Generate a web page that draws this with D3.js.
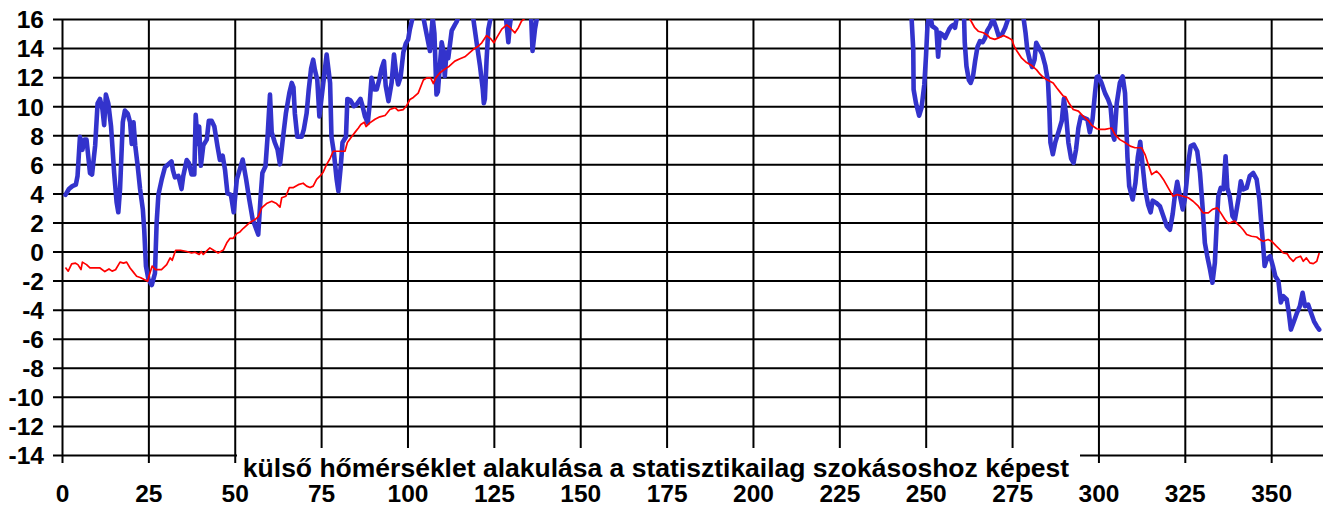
<!DOCTYPE html>
<html>
<head>
<meta charset="utf-8">
<script src="https://cdn.jsdelivr.net/npm/d3@7"></script>
<style>
  html, body { margin: 0; padding: 0; background: #fff; }
  svg { display: block; font-family: "Liberation Sans", Arial, sans-serif; }
</style>
</head>
<body>
<svg id="chart" width="1330" height="508"></svg>
<script>
// ---- data ----
const xTicks = [0, 25, 50, 75, 100, 125, 150, 175, 200, 225, 250, 275, 300, 325, 350];
const yTicks = [-14, -12, -10, -8, -6, -4, -2, 0, 2, 4, 6, 8, 10, 12, 14, 16];
const chartTitle = "külső hőmérséklet alakulása a statisztikailag szokásoshoz képest";

// measured outdoor temperature (day, °C); null breaks the line where it runs above the chart
const measuredDay = [
  1,2,3,4,4.5,5.2,5.9,6.5,7.1,8.1,8.7,9.6,10.3,11,11.7,12.2,12.7,13.4,14.2,15.1,15.8,16.3,16.8,17.6,18.2,19,19.7,20.2,20.7,21.2,21.9,22.6,23.4,23.8,24.3,25,26,26.9,27.4,27.9,28.9,29.8,31.7,32.1,32.7,33.7,34.6,35.1,36.1,36.7,37.5,38.3,38.7,39.3,39.7,40.2,40.9,41.9,42.5,43.3,44.1,45,45.7,46.5,47.2,47.9,48.9,49.7,50.6,52.3,53.3,54.2,55.2,56.1,56.8,57.5,58,58.9,59.5,60.2,60.7,61.6,62.4,63.1,64,64.8,65.8,66.5,67,67.4,68.1,69.4,70,70.8,71.4,72.1,72.7,73.2,73.9,74.5,76.6,77.6,78,78.7,79.5,80,80.7,81.2,82.2,82.6,83.5,84.5,85.2,86.4,87,87.7,88.5,89,89.6,90.4,91.1,91.8,92.5,93.2,93.7,94.5,95.4,96.1,96.7,97.3,98,98.8,99.5,100.2,100.7,101.5,103,104.6,105.5,106.5,107.3,107.8,108.4,108.8,109.9,110.3,110.8,111.3,111.8,112.8,113.7,114.2,114.8,117,119,120,121,121.8,122.1,122.4,122.9,123.4,124,126,128.5,129.2,129.6,130,133,135.8,136.2,136.9,137.5,138.5,
  190,
  244.5,245.9,246.4,246.5,247.2,248.1,248.8,249.6,250.1,250.5,250.9,251.5,251.9,252.6,253.1,253.6,254.1,255,255.6,256,256.8,257.4,258,258.5,259,260,261.1,261.3,261.8,262.5,263,263.7,264.3,265,265.7,266.5,267.2,267.8,268.6,269.5,270.4,271.1,272,273,274,276,278.3,278.9,279.4,280.2,280.8,281.5,282,282.8,283.7,284.6,285.4,285.8,286.1,286.8,287.5,288.6,289.4,290,290.6,291.3,292.1,292.8,293.5,294.2,294.9,295.8,296.8,297.5,298.3,299,299.5,300,300.9,301.9,302.8,303.5,304.2,304.6,305.3,306.2,307,307.7,308.1,308.4,308.9,309.9,310.7,311.4,312.1,312.8,313.5,314.4,315.1,315.7,316.7,317.8,318.8,319.8,320.7,321.5,322.1,322.8,323.6,324.4,325,325.5,326,326.7,327.6,328.6,329.4,330.2,330.8,331.5,332.3,333,333.7,334.2,334.7,335.4,336.2,336.8,337.3,338,338.8,339.5,340.5,341.2,341.9,342.9,343.8,344.8,345.8,346.6,347.2,347.7,348.1,348.7,349.7,350.5,351.2,352.1,352.8,353.5,354.5,355.1,355.7,356.6,357.5,358.3,359.1,359.8,360.7,361.5,362.4,363.2,363.9
];
const measuredTemp = [
  3.9,4.3,4.5,4.6,5.2,7.9,7.0,7.7,7.7,5.4,5.3,7.3,10.2,10.5,9.8,8.7,10.8,10.2,8.6,5.4,3.4,2.7,4.3,8.9,9.7,9.5,8.9,7.4,8.9,7.3,5.9,4.3,2.9,1.5,-1.0,-1.9,-2.3,-1.5,2.0,3.9,5.0,5.8,6.2,5.6,5.1,5.2,4.3,5.2,6.3,6.1,5.3,5.3,9.4,7.4,8.6,5.9,7.3,7.7,9.0,9.0,8.6,7.25,6.3,6.6,5.6,4.0,3.9,2.7,4.96,6.33,4.96,3.58,2.2,1.63,1.17,3.8,5.4,5.87,7.9,10.8,8.2,7.5,7.0,6.0,7.9,9.5,10.9,11.6,11.3,9.5,7.9,7.9,8.4,9.5,11.1,12.6,13.2,12.5,11.8,9.3,13.56,11.6,7.9,6.8,4.96,4.15,5.9,7.5,7.9,10.5,10.4,10.0,10.1,10.5,10.0,9.3,8.85,10.0,11.95,11.15,11.15,11.8,12.6,13.1,11.4,10.35,11.6,13.56,12.3,11.5,12.0,13.7,14.3,14.6,15.3,16.1,17,16.1,15.0,13.8,16.1,15.0,10.8,11.0,14.4,13.9,12.06,13.7,13.3,15.2,15.6,15.8,16.2,17,16.1,14.4,12.75,11.15,10.2,10.5,13.2,15.3,16,17,16.1,14.4,15.5,16.2,17,16.1,13.8,15.3,16.1,17,
  null,
  17,16.1,13.9,11.15,10.2,9.35,9.9,11.5,13.5,15.5,16.1,16.0,15.5,15.4,15.3,13.4,15.05,14.9,14.7,14.9,15.3,15.5,15.6,15.4,16.1,17,16.1,14.4,12.75,11.8,11.6,12.06,13.1,14.1,14.47,14.4,14.7,15.2,15.5,16.0,15.4,14.85,14.9,15.4,16.1,17,16.1,15.05,13.9,13.1,12.7,13.2,14.36,14.0,13.6,12.8,11.7,9.7,7.5,6.7,7.5,8.35,9.0,10.5,9.5,7.5,6.4,6.1,7.0,8.5,9.3,9.2,9.1,8.2,9.1,10.9,12.0,12.06,11.6,10.9,10.46,10.0,8.0,7.7,10.2,11.6,12.06,10.9,8.5,6.5,4.5,3.58,4.7,6.5,7.55,5.9,4.3,3.2,2.7,3.5,3.35,3.12,2.43,1.74,1.5,2.6,3.8,4.8,3.8,2.9,3.58,4.73,6.1,7.25,7.36,6.9,5.4,2.9,0.6,-0.32,-1.24,-2.15,-0.78,1.74,3.8,4.38,4.3,6.56,4.38,3.8,2.43,2.2,3.58,4.84,4.27,4.38,5.2,5.4,4.96,3.58,1.74,0.37,-1.0,-0.55,-0.32,-1.0,-1.7,-2.04,-3.5,-3.07,-3.3,-4.2,-5.37,-4.8,-4.2,-3.76,-2.84,-3.76,-3.65,-4.2,-4.8,-5.14,-5.37
];

// statistically usual temperature (day, °C)
const normalDay = [
  1,1.8,2.8,3.9,4.6,5.5,5.9,7.1,8.1,11,12.4,13.6,14.5,15.5,16.8,17.8,18.7,19.7,20.6,21.6,22.8,23.8,24.8,25.3,26.1,27.1,28.8,30.3,31.3,31.9,32.9,34.3,36.1,37.5,38.5,39.7,40.3,40.9,41.9,42.8,44.1,45.2,46.7,47.7,48.6,49.5,50.6,51.5,52.5,54.4,55.9,56.8,57.8,59.2,60.7,62.1,63.1,63.6,64.8,65.8,67,68.4,69.8,70.8,71.8,72.7,73.7,74.7,75.6,76.6,77.6,78.5,79.7,80.9,81.9,82.6,83.5,84.8,85.8,86.5,87.5,88,89.1,90.6,92,93.5,94,94.9,96.4,97.3,98.8,99.8,100.7,101.7,103.1,104.6,105.6,106.7,107.5,108.2,109.4,110.9,112.1,113.7,115.2,116.6,117.6,119,120.5,121.5,122.9,124.1,125,125.8,127.3,128.7,129.7,131.1,132.1,133,134,135,
  200,
  262,262.8,264.2,265.2,266.7,268,268.6,270,271.1,272.5,274,275,275.6,276.4,277.8,279.2,280.7,282.1,283.1,284.2,285.5,286.9,287.9,288.9,289.8,290.5,291.5,292.7,294.2,295.2,296.1,297.1,298,299.5,300.5,301.9,303.8,304.8,306.2,307.7,309.2,310.6,312.5,313.5,314.4,315.4,316.8,317.8,318.8,320.2,321.6,322.8,324.5,326,327.4,328.9,330.3,331.8,333,334.4,335.4,336.6,337.6,338.5,339.5,340.2,341,341.9,342.9,344.3,345.8,346.7,347.7,349.1,350.1,351.5,352.5,353.5,354.6,355.4,356.4,357.2,358.5,359.3,360.2,361.2,362.2,363.2,363.9
];
const normalTemp = [
  -1.1,-1.35,-0.85,-0.8,-0.9,-1.24,-0.73,-0.9,-1.13,-1.13,-1.38,-1.2,-1.35,-1.25,-0.73,-0.8,-0.73,-1.13,-1.4,-1.7,-1.8,-1.93,-2.04,-1.6,-1.0,-1.24,-1.24,-0.9,-0.44,-0.6,0.09,0.09,0.0,-0.1,-0.05,-0.2,0,-0.2,0.05,0.25,0.05,-0.1,0.1,0.6,0.9,0.9,1.24,1.35,1.6,2.0,2.2,2.4,3.0,3.3,3.46,3.3,3.05,3.7,3.8,4.4,4.4,4.6,4.7,4.5,4.4,4.5,4.96,5.2,5.46,6.0,6.4,6.9,6.9,6.9,6.9,7.5,7.8,8.2,8.5,8.74,8.9,8.6,8.85,9.1,9.27,9.36,9.5,9.77,9.9,9.7,9.77,10.05,10.46,10.6,10.9,11.8,11.95,11.95,11.56,11.95,12.3,12.57,12.75,13.1,13.26,13.4,13.6,13.9,14.13,14.36,14.86,14.64,14.36,14.7,15.3,15.6,15.4,15.05,15.4,15.85,16.05,16.4,
  null,
  16.5,16.0,15.4,15.16,15.05,14.86,14.7,14.6,14.7,14.86,14.7,14.55,14.13,13.8,13.3,13.0,12.8,12.5,12.2,11.95,11.77,11.6,11.27,10.97,10.7,10.65,10.2,9.77,9.66,9.4,9.2,9.0,8.7,8.45,8.4,8.4,8.5,8.05,7.7,7.5,7.25,7.14,7.14,6.67,6.0,5.3,5.53,5.3,4.96,4.38,3.8,3.92,3.8,3.7,3.46,3.12,2.66,2.66,2.9,3.0,2.66,2.2,1.93,2.02,2.09,1.9,1.74,1.5,1.17,1.05,1.0,0.83,0.71,0.83,0.71,0.37,0.14,-0.1,-0.14,-0.44,-0.67,-0.44,-0.32,-0.67,-0.44,-0.78,-0.83,-0.67,-0.1
];

// ---- drawing ----
const svg = d3.select("#chart");
const pLeft = 62, pRight = 1323, pTop = 19, pBottom = 455;
const x = d3.scaleLinear().domain([0, 365]).range([pLeft, pRight]);
const y = d3.scaleLinear().domain([-14, 16]).range([pBottom, pTop]);
const FONT = "'Liberation Sans', Arial, sans-serif";
const LABEL_SIZE = 24.5;

svg.append("defs").append("clipPath").attr("id", "plotClip")
  .append("rect").attr("x", pLeft).attr("y", pTop).attr("width", pRight - pLeft).attr("height", pBottom - pTop);

// horizontal grid + y labels
const gy = svg.append("g").attr("transform", `translate(${pLeft - 9},0)`)
  .call(d3.axisLeft(y).tickValues(yTicks).tickSizeInner(-(pRight - pLeft + 9)).tickSizeOuter(0)
    .tickPadding(9).tickFormat(d => String(d)));
gy.select(".domain").remove();
gy.selectAll("line").attr("stroke", "#000").attr("stroke-width", 2);
gy.selectAll("text").attr("font-size", LABEL_SIZE).attr("font-weight", "bold").attr("fill", "#000")
  .attr("font-family", FONT).attr("dy", "0.36em");

// vertical grid + x labels
const gx = svg.append("g").attr("transform", `translate(0,${pBottom + 8})`)
  .call(d3.axisBottom(x).tickValues(xTicks).tickSizeInner(-(pBottom + 8 - pTop)).tickSizeOuter(0).tickPadding(22));
gx.select(".domain").remove();
gx.selectAll("line").attr("stroke", "#000").attr("stroke-width", 2);
gx.selectAll("text").attr("font-size", LABEL_SIZE).attr("font-weight", "bold").attr("fill", "#000")
  .attr("font-family", FONT);

// series
const measured = measuredDay.map((d, i) => [d, measuredTemp[i]]);
const normal = normalDay.map((d, i) => [d, normalTemp[i]]);
const line = d3.line().defined(d => d[1] !== null && d[1] !== undefined).x(d => x(d[0])).y(d => y(d[1]));

const plot = svg.append("g").attr("clip-path", "url(#plotClip)");
plot.append("path").datum(measured).attr("d", line)
  .attr("fill", "none").attr("stroke", "#3333cc").attr("stroke-width", 4.6)
  .attr("stroke-linejoin", "round").attr("stroke-linecap", "round");
plot.append("path").datum(normal).attr("d", line)
  .attr("fill", "none").attr("stroke", "#ff0000").attr("stroke-width", 1.7)
  .attr("stroke-linejoin", "round");

// title with white backing
const tg = svg.append("g");
tg.append("rect").attr("fill", "#fff")
  .attr("x", 237).attr("y", 448).attr("width", 1080 - 237).attr("height", 34);
tg.append("text").text(chartTitle)
  .attr("x", 656).attr("y", 477).attr("text-anchor", "middle")
  .attr("font-size", 26.5).attr("font-weight", "bold").attr("fill", "#000")
  .attr("font-family", FONT);
</script>
</body>
</html>
